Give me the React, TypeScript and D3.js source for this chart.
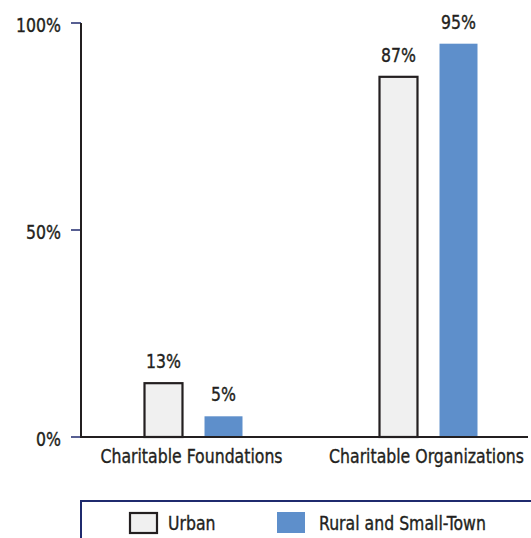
import React from "react";
import * as d3 from "d3";

const categories = ["Charitable Foundations", "Charitable Organizations"];
const seriesNames = ["Urban", "Rural and Small-Town"];
const urbanValues = [13, 87];
const ruralValues = [5, 95];
const yTicks = [0, 50, 100];

const W = 531;
const H = 538;
const FONT = "'DejaVu Sans Condensed', 'Liberation Sans Narrow', sans-serif";
const TEXT = "#231f20";
const NAVY = "#1f2a6e";
const URBAN_FILL = "#f0f0f0";
const RURAL_FILL = "#5e8fcb";
const FS = 19;
const SX = 0.92;

function Txt({ x, y, anchor = "start", children }: { x: number; y: number; anchor?: string; children: React.ReactNode }) {
  return (
    <text
      transform={`translate(${x},${y}) scale(${SX},1)`}
      textAnchor={anchor}
      fontSize={FS}
      fill={TEXT}
      stroke={TEXT}
      strokeWidth={0.35}
    >
      {children}
    </text>
  );
}

export default function App() {
  const y = d3.scaleLinear().domain([0, 100]).range([437, 23]);
  const x0 = d3.scaleBand<string>().domain(categories).range([76, 546]);
  const x1 = d3.scaleBand<string>().domain(seriesNames).range([-49, 49]).paddingInner(0.367);
  const values = [urbanValues, ruralValues];
  const fills = [URBAN_FILL, RURAL_FILL];

  return (
    <svg width={W} height={H} style={{ position: "absolute", left: 0, top: 0, background: "#fff" }} fontFamily={FONT}>
      {/* y ticks */}
      {yTicks.map((t) => (
        <g key={t}>
          <line x1={71} x2={81} y1={y(t)} y2={y(t)} stroke={NAVY} strokeWidth={1.5} />
          <Txt x={61} y={y(t) + 9} anchor="end">
            {t}%
          </Txt>
        </g>
      ))}
      {/* bars */}
      {categories.map((c, ci) => {
        const cx = x0(c)! + x0.bandwidth() / 2;
        return (
          <g key={c}>
            {seriesNames.map((s, si) => {
              const v = values[si][ci];
              const bx = cx + x1(s)!;
              const bw = x1.bandwidth();
              const isUrban = si === 0;
              return (
                <g key={s}>
                  <rect
                    x={bx}
                    y={y(v)}
                    width={bw}
                    height={y(0) - y(v)}
                    fill={fills[si]}
                    stroke={isUrban ? "#231f20" : "none"}
                    strokeWidth={isUrban ? 2.2 : 0}
                  />
                  <Txt x={bx + bw / 2} y={y(v) - 15} anchor="middle">
                    {v}%
                  </Txt>
                </g>
              );
            })}
            <Txt x={cx - 2} y={463} anchor="middle">
              {c}
            </Txt>
          </g>
        );
      })}
      {/* axes */}
      <line x1={81} x2={81} y1={23} y2={438} stroke="#231f20" strokeWidth={2} />
      <line x1={80} x2={528} y1={437} y2={437} stroke="#231f20" strokeWidth={2} />
      {/* legend */}
      <rect x={81} y={501} width={470} height={60} fill="#fff" stroke={NAVY} strokeWidth={2} />
      <rect x={130} y={513} width={27} height={20} fill={URBAN_FILL} stroke="#231f20" strokeWidth={2.2} />
      <Txt x={168} y={530}>
        {seriesNames[0]}
      </Txt>
      <rect x={277} y={512} width={28} height={21} fill={RURAL_FILL} />
      <Txt x={319} y={530}>
        {seriesNames[1]}
      </Txt>
    </svg>
  );
}
